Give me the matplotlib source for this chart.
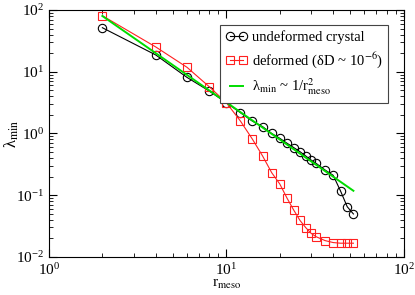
import matplotlib
matplotlib.use('Agg')
import matplotlib.pyplot as plt

plt.rcParams['font.family'] = ['Liberation Serif', 'DejaVu Serif']
plt.rcParams['mathtext.fontset'] = 'stix'

# undeformed crystal
r_undef = [2, 4, 6, 8, 10, 12, 14, 16, 18, 20, 22, 24, 26, 28, 30, 32, 36, 40, 44, 48, 52]
lam_undef = [51.7, 18.7, 8.1, 4.88, 3.15, 2.17, 1.59, 1.29, 1.0, 0.835, 0.693, 0.589,
             0.507, 0.432, 0.372, 0.329, 0.256, 0.21, 0.117, 0.065, 0.0497]

# deformed
r_def = [2, 4, 6, 8, 10, 12, 14, 16, 18, 20, 22, 24, 26, 28, 30, 32, 36, 40, 44, 48, 52]
lam_def = [80.9, 25.2, 11.8, 5.73, 3.15, 1.59, 0.814, 0.432, 0.232, 0.152, 0.089, 0.057,
           0.039, 0.0299, 0.0242, 0.0213, 0.0184, 0.0171, 0.0167, 0.0167, 0.0167]

# 1/r^2 guide line, end points
r_fit = [2, 52]
lam_fit = [80.0, 0.118]

fig = plt.figure(figsize=(4.15, 2.95), dpi=100)
ax = fig.add_axes([0.118, 0.129, 0.855, 0.837])

ax.plot(r_undef, lam_undef, color='black', lw=0.8, marker='o', ms=6,
        mfc='none', mec='black', mew=0.8, label='undeformed crystal')
ax.plot(r_def, lam_def, color='#ff2020', lw=0.8, marker='s', ms=6,
        mfc='none', mec='#ff2020', mew=0.8, label='deformed (δD ~ 10$^{-6}$)')
ax.plot(r_fit, lam_fit, color='#00dd00', lw=1.4,
        label='λ$_{\\rm min}$ ~ 1/r$^2_{\\rm meso}$')

ax.set_xscale('log')
ax.set_yscale('log')
ax.set_xlim(1, 100)
ax.set_ylim(0.01, 100)

ax.tick_params(which='both', direction='in', top=True, right=True, labelsize=11)
ax.tick_params(which='major', length=6, width=0.8)
ax.tick_params(which='minor', length=3, width=0.6)
ax.set_xticks([1, 10, 100])
ax.set_yticks([0.01, 0.1, 1, 10, 100])

ax.set_xlabel('r$_{\\rm meso}$', fontsize=11, labelpad=0)
ax.set_ylabel('λ$_{\\rm min}$', fontsize=12)
ax.yaxis.set_label_coords(-0.08, 0.5)

leg = ax.legend(loc='upper right', bbox_to_anchor=(0.955, 0.94), fontsize=10.5,
                numpoints=2, fancybox=False, handlelength=1.5, handletextpad=0.3,
                borderpad=0.35, labelspacing=0.45, borderaxespad=0, framealpha=1)
leg.get_frame().set_edgecolor('#444444')
leg.get_frame().set_linewidth(0.8)

plt.savefig('out.png', dpi=100)
